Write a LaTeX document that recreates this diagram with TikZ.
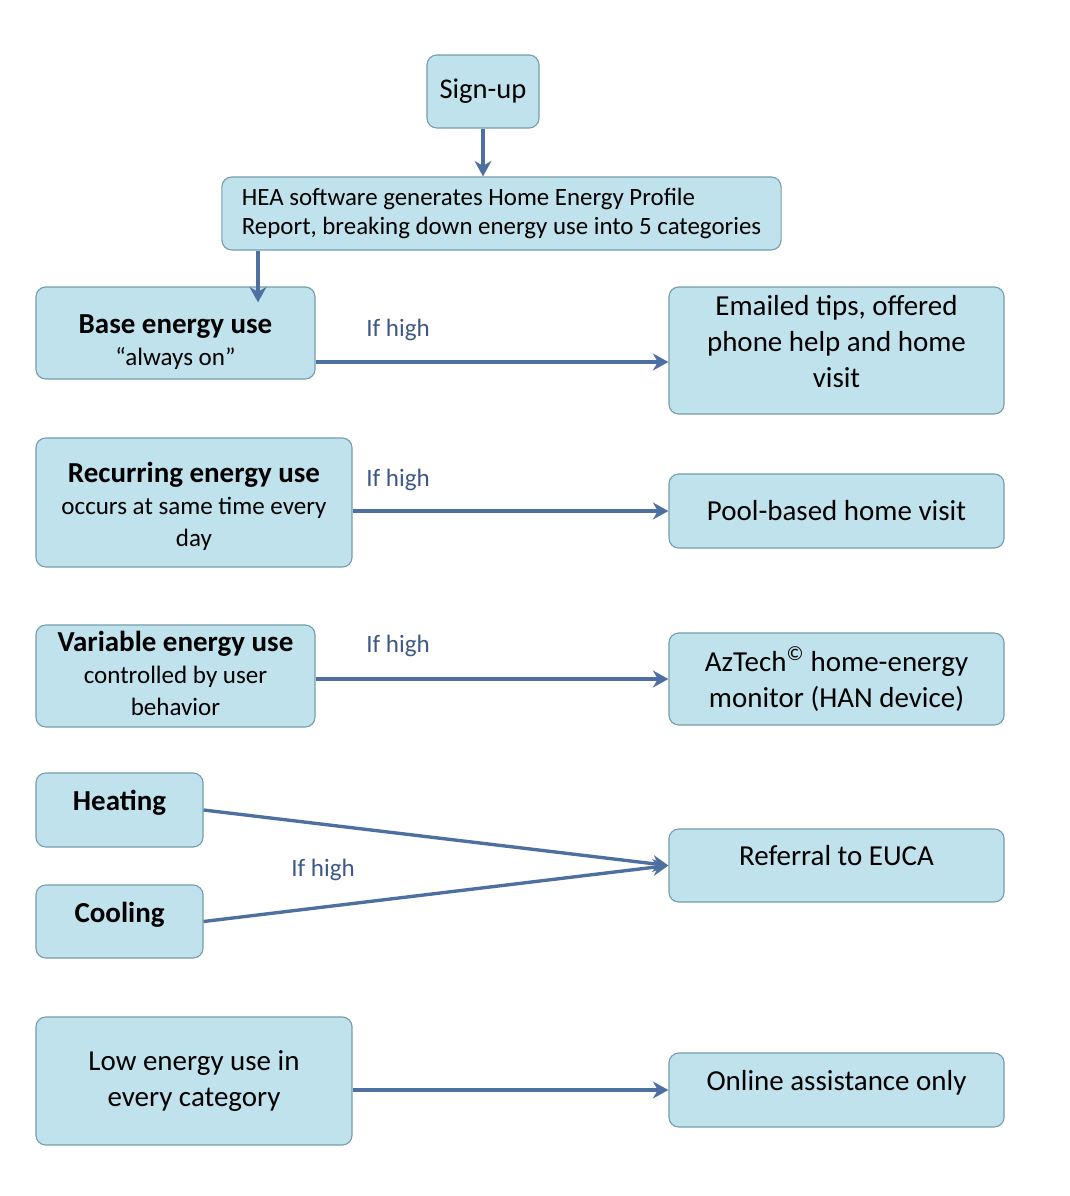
\documentclass[tikz,border=0pt]{standalone}
\usepackage{fontspec}
\setmainfont{Carlito}
\usetikzlibrary{arrows,arrows.meta}
\usepackage{xcolor}
\definecolor{boxfill}{RGB}{192,226,236}
\definecolor{boxline}{RGB}{118,158,172}
\definecolor{arrowblue}{RGB}{78,112,160}
\definecolor{labelblue}{RGB}{62,88,135}
\newcommand{\headtext}[1]{{\fontsize{20.6}{24}\selectfont\bfseries #1}}
\begin{document}
\begin{tikzpicture}[x=0.025cm, y=-0.025cm,
    box/.style={rectangle, rounded corners=7pt, fill=boxfill, draw=boxline, line width=0.8pt, align=center, inner sep=0pt},
    leftbox/.style={font=\fontsize{17.8}{22.7}\selectfont},
    rightbox/.style={font=\fontsize{20.6}{25.6}\selectfont},
    flow/.style={-{Stealth[length=11pt, width=12pt, inset=3.5pt]}, arrowblue, line width=2.4pt},
    ifhigh/.style={labelblue, font=\fontsize{17.8}{20}\selectfont}]

      \useasboundingbox (0,0) rectangle (1070,1196);

      \node[box, minimum width=2.8cm, minimum height=1.825cm, font=\fontsize{20.3}{24}\selectfont] (signup) at (483, 91.5) {Sign-up};
      \node[box, align=left, minimum width=13.975cm, minimum height=1.825cm, font=\fontsize{17.7}{21.3}\selectfont] (hea) at (501.5, 213.5)
        {HEA software generates Home Energy Profile\\Report, breaking down energy use into 5 categories};

      % text shifted with text height / text depth where the box leaves room
      \node[box, leftbox, minimum width=6.975cm, minimum height=2.3cm, text height=1.72cm] (base) at (175.5, 333)
        {\headtext{Base energy use}\\“always on”};
      \node[box, leftbox, minimum width=7.9cm, minimum height=3.225cm, text height=2.31cm] (recurring) at (194, 502.5)
        {\headtext{Recurring energy use}\\occurs at same time every\\day};
      \node[box, leftbox, minimum width=6.975cm, minimum height=2.55cm, text depth=0.15cm] (variable) at (175.5, 676)
        {\headtext{Variable energy use}\\controlled by user\\behavior};
      \node[box, leftbox, minimum width=4.175cm, minimum height=1.85cm, text depth=0.5cm] (heating) at (119.5, 810) {\headtext{Heating}};
      \node[box, leftbox, minimum width=4.175cm, minimum height=1.825cm, text depth=0.45cm] (cooling) at (119.5, 921.5) {\headtext{Cooling}};
      \node[box, rightbox, minimum width=7.9cm, minimum height=3.2cm] (low) at (194, 1081)
        {Low energy use in\\every category};

      \node[box, rightbox, minimum width=8.375cm, minimum height=3.175cm, text depth=0.45cm] (emailed) at (836.5, 350.5)
        {Emailed tips, offered\\phone help and home\\visit};
      \node[box, rightbox, minimum width=8.375cm, minimum height=1.85cm] (pool) at (836.5, 511) {Pool-based home visit};
      \node[box, rightbox, minimum width=8.375cm, minimum height=2.3cm] (aztech) at (836.5, 679)
        {AzTech\textsuperscript{©} home-energy\\monitor (HAN device)};
      \node[box, rightbox, minimum width=8.375cm, minimum height=1.825cm, text depth=0.5cm] (referral) at (836.5, 865.5) {Referral to EUCA};
      \node[box, rightbox, minimum width=8.375cm, minimum height=1.85cm, text depth=0.5cm] (online) at (836.5, 1090) {Online assistance only};

      \node[ifhigh] (ifbase) at (398, 330) {If high};
      \node[ifhigh] (ifrecurring) at (398, 480) {If high};
      \node[ifhigh] (ifvariable) at (398, 646) {If high};
      \node[ifhigh] (ifheat) at (323, 870) {If high};

      \coordinate (drop) at (258, 0);
      \coordinate (baseline) at (0, 362);

      \draw[flow] (signup.south) -- (signup.south |- hea.north);
      \draw[flow, shorten >=-0.4cm] (hea.south -| drop) -- (base.north -| drop);
      \draw[flow] (base.east |- baseline) -- (emailed.west |- baseline);
      \draw[flow] (recurring.east |- pool.west) -- (pool.west);
      \draw[flow] (variable.east |- aztech.west) -- (aztech.west);
      \draw[flow] (heating.east) -- (referral.west);
      \draw[flow] (cooling.east) -- (referral.west);
      \draw[flow] (low.east |- online.west) -- (online.west);

    \end{tikzpicture}
\end{document}
